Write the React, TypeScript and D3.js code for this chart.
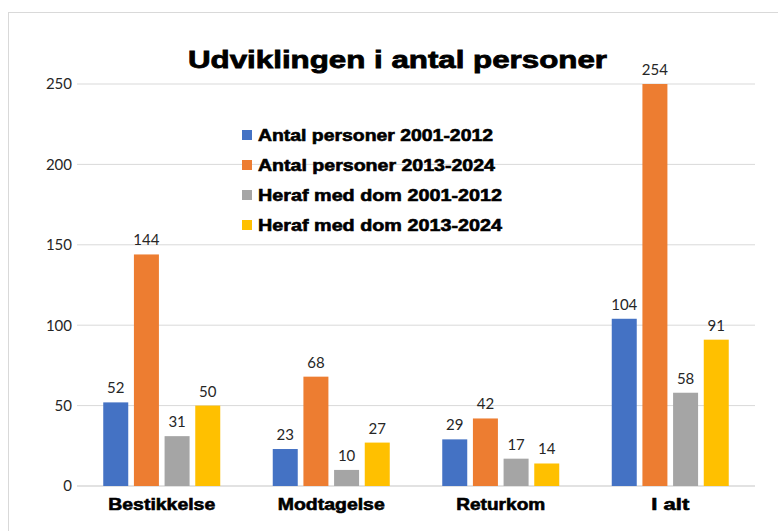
import React from "react";
import * as d3 from "d3";

const categories = ["Bestikkelse", "Modtagelse", "Returkom", "I alt"];
const seriesNames = [
  "Antal personer 2001-2012",
  "Antal personer 2013-2024",
  "Heraf med dom 2001-2012",
  "Heraf med dom 2013-2024",
];
const seriesColors = ["#4472C4", "#ED7D31", "#A5A5A5", "#FFC000"];
const antal2001 = [52, 23, 29, 104];
const antal2013 = [144, 68, 42, 254];
const dom2001 = [31, 10, 17, 58];
const dom2013 = [50, 27, 14, 91];
const seriesValues = [antal2001, antal2013, dom2001, dom2013];
const yTicks = [0, 50, 100, 150, 200, 250];
const title = "Udviklingen i antal personer";

const W = 778;
const H = 531;
const plotLeft = 77;
const plotRight = 755;
const plotTop = 84;
const plotBottom = 486;

// rendered text widths matching the reference's heavier, wider bold face
const categoryLabelWidths = [107, 107, 89, 38];
const legendLabelWidths = [235, 237, 244, 244];
const titleWidth = 419;

const boldFont = "'Liberation Sans', Arial, sans-serif";

export default function App() {
  const x = d3.scaleBand<string>().domain(categories).range([plotLeft, plotRight]).paddingInner(0).paddingOuter(0);
  const y = d3.scaleLinear().domain([0, 250]).range([plotBottom, plotTop]);
  const groupW = 117;
  const inner = d3
    .scaleBand<number>()
    .domain(d3.range(seriesNames.length))
    .range([0, groupW])
    .paddingInner(0.185)
    .paddingOuter(0);
  const bw = inner.bandwidth();

  return (
    <svg
      width={W}
      height={H}
      style={{ position: "absolute", left: 0, top: 0, background: "#fff" }}
    >
      <rect x={8.5} y={12.5} width={W + 10} height={H + 10} fill="#fff" stroke="#d9d9d9" strokeWidth={1} />
      {yTicks.map((t) => (
        <g key={t}>
          <line x1={plotLeft} x2={plotRight} y1={y(t)} y2={y(t)} stroke="#d9d9d9" strokeWidth={t === 0 ? 1.5 : 1} />
          <text
            x={72}
            y={y(t)}
            dy="0.36em"
            textAnchor="end"
            fontFamily="Lato, 'Open Sans', sans-serif"
            fontSize={15}
            fill="#262626"
          >
            {t}
          </text>
        </g>
      ))}
      {categories.map((c, ci) => {
        const gx = (x(c) as number) + (x.bandwidth() - groupW) / 2;
        return (
          <g key={c}>
            {seriesValues.map((vals, si) => {
              const v = vals[ci];
              const vc = Math.min(v, 250);
              const bx = gx + (inner(si) as number);
              return (
                <g key={si}>
                  <rect x={bx} y={y(vc)} width={bw} height={y(0) - y(vc)} fill={seriesColors[si]} />
                  <text
                    x={bx + bw / 2}
                    y={y(vc) - 9}
                    textAnchor="middle"
                    fontFamily="Lato, 'Open Sans', sans-serif"
                    fontSize={15}
                    fill="#262626"
                  >
                    {v}
                  </text>
                </g>
              );
            })}
            <text
              x={(x(c) as number) + x.bandwidth() / 2 - categoryLabelWidths[ci] / 2}
              y={510}
              textLength={categoryLabelWidths[ci]}
              lengthAdjust="spacingAndGlyphs"
              fontFamily={boldFont}
              fontWeight="bold"
              fontSize={16.5}
              fill="#000"
              stroke="#000"
              strokeWidth={0.6}
            >
              {c}
            </text>
          </g>
        );
      })}
      <text
        x={397.5 - titleWidth / 2}
        y={68}
        textLength={titleWidth}
        lengthAdjust="spacingAndGlyphs"
        fontFamily={boldFont}
        fontWeight="bold"
        fontSize={24.5}
        fill="#000"
        stroke="#000"
        strokeWidth={0.8}
      >
        {title}
      </text>
      {seriesNames.map((n, i) => (
        <g key={n} transform={`translate(242, ${135 + i * 30})`}>
          <rect x={0} y={-5} width={10} height={10} fill={seriesColors[i]} />
          <text
            x={16}
            y={0}
            dy="0.36em"
            textLength={legendLabelWidths[i]}
            lengthAdjust="spacingAndGlyphs"
            fontFamily={boldFont}
            fontWeight="bold"
            fontSize={16.5}
            fill="#000"
            stroke="#000"
            strokeWidth={0.6}
          >
            {n}
          </text>
        </g>
      ))}
    </svg>
  );
}
